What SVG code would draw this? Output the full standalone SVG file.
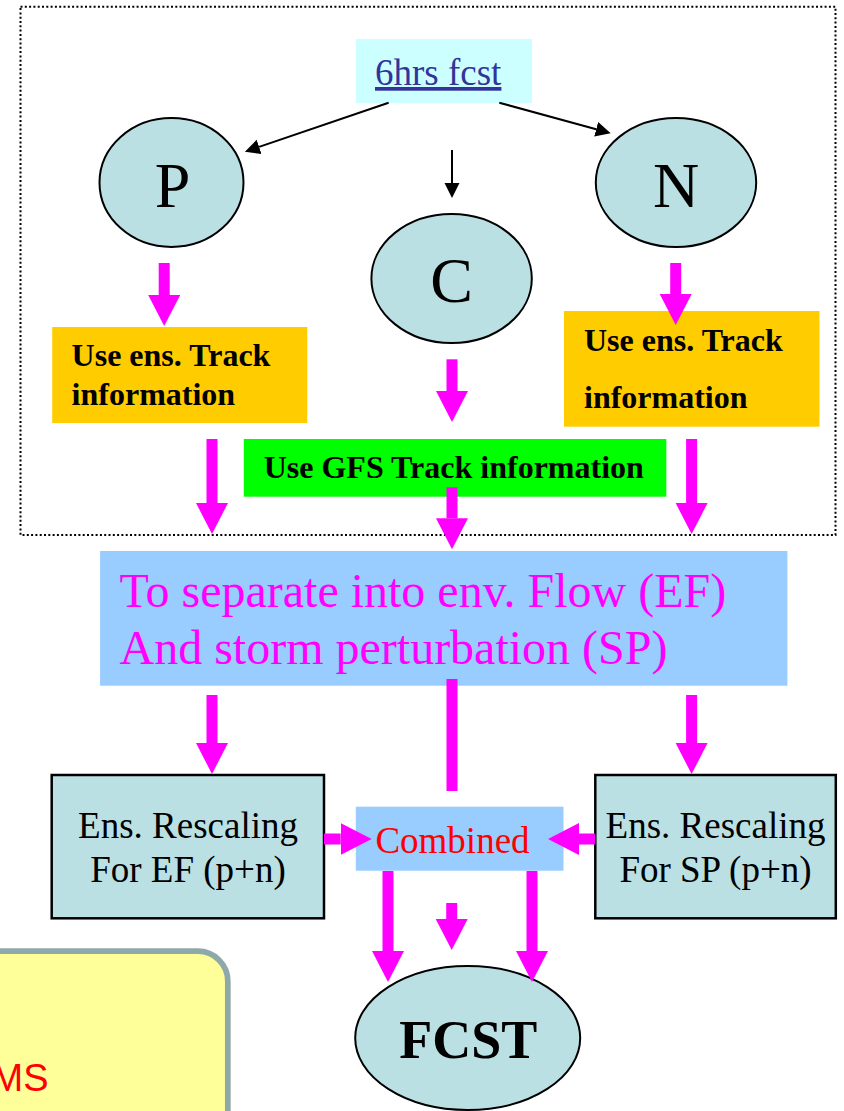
<svg xmlns="http://www.w3.org/2000/svg" width="844" height="1111" viewBox="0 0 844 1111">
  <style>
    .serif { font-family: "Liberation Serif", "Times New Roman", serif; }
    .bold { font-family: "Liberation Serif", "Times New Roman", serif; font-weight: bold; }
    .ell { fill: #BBE0E3; stroke: #000; stroke-width: 2; }
    .teal { fill: #BBE0E3; stroke: #000; stroke-width: 2.5; }
    .thin { stroke: #000; stroke-width: 2; fill: none; marker-end: url(#blackHead); }
    .fat { stroke: #FF00FF; stroke-width: 11; fill: none; marker-end: url(#magHead); }
    .bar { stroke: #FF00FF; stroke-width: 11; fill: none; }
  </style>
  <defs>
    <marker id="blackHead" markerUnits="userSpaceOnUse" markerWidth="16" markerHeight="16" refX="0" refY="7.5" orient="auto">
      <path d="M0,0 L15,7.5 L0,15 Z" fill="#000"/>
    </marker>
    <marker id="magHead" markerUnits="userSpaceOnUse" markerWidth="32" markerHeight="33" refX="0" refY="16" orient="auto">
      <path d="M0,0 L31,16 L0,32 Z" fill="#FF00FF"/>
    </marker>
  </defs>

  <rect width="844" height="1111" fill="#FFFFFF"/>

  <!-- dotted frame around the upper stage -->
  <rect x="20.5" y="6.7" width="815" height="528.3" fill="none" stroke="#000" stroke-width="2" stroke-dasharray="2 2.3"/>

  <g id="fcst6">
    <rect x="356" y="39" width="176" height="64" fill="#CCFFFF"/>
    <text x="375" y="85" class="serif" font-size="37" fill="#333399" text-decoration="underline">6hrs fcst</text>
  </g>

  <g id="nodeP">
    <ellipse cx="171.5" cy="182.5" rx="72" ry="64.5" class="ell"/>
    <text x="172.5" y="207" class="serif" font-size="64" text-anchor="middle">P</text>
  </g>
  <g id="nodeC">
    <ellipse cx="451.6" cy="278.5" rx="80.2" ry="64.5" class="ell"/>
    <text x="451.6" y="302" class="serif" font-size="64" text-anchor="middle">C</text>
  </g>
  <g id="nodeN">
    <ellipse cx="676" cy="182.5" rx="80.2" ry="64.5" class="ell"/>
    <text x="676" y="207" class="serif" font-size="64" text-anchor="middle">N</text>
  </g>

  <g id="ensTrackP">
    <rect x="52.2" y="327" width="255.1" height="96" fill="#FFCC00"/>
    <text x="71.6" y="366" class="bold" font-size="32">Use ens. Track</text>
    <text x="71.6" y="405" class="bold" font-size="32">information</text>
  </g>
  <g id="ensTrackN">
    <rect x="564" y="311" width="255.5" height="115.7" fill="#FFCC00"/>
    <text x="584" y="350.7" class="bold" font-size="32">Use ens. Track</text>
    <text x="584" y="408.3" class="bold" font-size="32">information</text>
  </g>
  <g id="gfsTrack">
    <rect x="243.8" y="439" width="422.5" height="57.7" fill="#00FF00"/>
    <text x="263.7" y="478" class="bold" font-size="32">Use GFS Track information</text>
  </g>

  <g id="separate">
    <rect x="100.1" y="551" width="687.3" height="134.7" fill="#99CCFF"/>
    <text x="119.5" y="607" class="serif" font-size="48" fill="#FF00FF">To separate into env. Flow (EF)</text>
    <text x="119.5" y="664" class="serif" font-size="48" fill="#FF00FF">And storm perturbation (SP)</text>
  </g>

  <g id="rescaleEF">
    <rect x="51.7" y="775" width="272.3" height="143.3" class="teal"/>
    <text x="188" y="838.3" class="serif" font-size="37" text-anchor="middle">Ens. Rescaling</text>
    <text x="188" y="881.7" class="serif" font-size="37" text-anchor="middle">For EF (p+n)</text>
  </g>
  <g id="rescaleSP">
    <rect x="595.3" y="775" width="240.5" height="143.3" class="teal"/>
    <text x="715.5" y="838.3" class="serif" font-size="37" text-anchor="middle">Ens. Rescaling</text>
    <text x="715.5" y="881.7" class="serif" font-size="37" text-anchor="middle">For SP (p+n)</text>
  </g>

  <g id="combined">
    <rect x="355.8" y="806.7" width="207.7" height="64" fill="#99CCFF"/>
    <text x="452.5" y="852.7" class="serif" font-size="37" fill="#FF0000" text-anchor="middle">Combined</text>
  </g>

  <g id="fcst">
    <ellipse cx="467.7" cy="1038" rx="112.5" ry="72" class="ell"/>
    <text x="468.2" y="1058" class="bold" font-size="54" text-anchor="middle">FCST</text>
  </g>

  <g id="note">
    <rect x="-50" y="951.2" width="277.8" height="300" rx="30" ry="30" fill="#FFFF99" stroke="#8FA8AA" stroke-width="5.7"/>
    <text x="48.6" y="1091" font-family="Liberation Sans, Arial, sans-serif" font-size="38" fill="#FF0000" text-anchor="end">MS</text>
  </g>

  <g id="connectors">
    <!-- thin black arrows from the 6 h forecast -->
    <line x1="388.6" y1="102.7" x2="259.1" y2="146.9" class="thin"/>
    <line x1="499.3" y1="102.7" x2="596.2" y2="129.3" class="thin"/>
    <line x1="452" y1="150" x2="452" y2="183" class="thin"/>

    <!-- magenta flow arrows -->
    <line x1="164.2" y1="263" x2="164.2" y2="295" class="fat"/>
    <line x1="675.7" y1="263" x2="675.7" y2="294" class="fat"/>
    <line x1="452" y1="359.3" x2="452" y2="391" class="fat"/>
    <line x1="212" y1="439" x2="212" y2="503" class="fat"/>
    <line x1="691.6" y1="439" x2="691.6" y2="503" class="fat"/>
    <line x1="452" y1="487.3" x2="452" y2="518.3" class="fat"/>

    <line x1="212" y1="695" x2="212" y2="743" class="fat"/>
    <line x1="691.6" y1="695" x2="691.6" y2="743" class="fat"/>
    <line x1="452" y1="679" x2="452" y2="791" class="bar"/>

    <line x1="324" y1="839" x2="340.7" y2="839" class="fat"/>
    <line x1="595.3" y1="839" x2="579" y2="839" class="fat"/>

    <line x1="388" y1="871" x2="388" y2="951" class="fat"/>
    <line x1="532" y1="871" x2="532" y2="951" class="fat"/>
    <line x1="451.7" y1="903" x2="451.7" y2="919" class="fat"/>
  </g>
</svg>
